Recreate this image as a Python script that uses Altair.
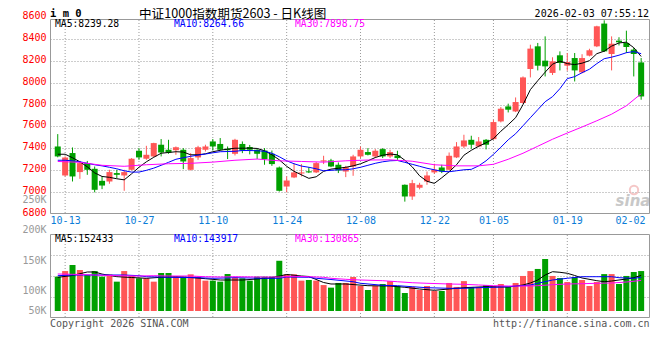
import altair as alt
import pandas as pd

# ---------------- data ----------------
first_idx = -1  # first (partly hidden) candle is 10-10; 10-13 is index 0

opens = [7417, 7152, 7357, 7183, 7265, 7213, 7103, 7097, 7174, 7152,
         7204, 7378, 7305, 7326, 7433, 7387, 7383, 7387, 7204, 7317,
         7387, 7463, 7440, 7396, 7350, 7440, 7412, 7387, 7380, 7350,
         7225, 7051, 7134, 7170, 7190, 7180, 7280, 7289, 7250, 7188,
         7234, 7326, 7366, 7326, 7393, 7326, 7335, 7067, 6960, 7040,
         7097, 7180, 7225, 7204, 7317, 7417, 7478, 7417, 7478, 7484,
         7646, 7783, 7737, 7814, 8125, 8332, 8201, 8089, 8250, 8155,
         8225, 8094, 8247, 8332, 8540, 8262, 8384, 8363, 8302, 8185]
highs = [7530, 7326, 7408, 7286, 7285, 7234, 7143, 7204, 7204, 7204,
         7311, 7402, 7423, 7451, 7485, 7478, 7417, 7402, 7356, 7423,
         7433, 7485, 7494, 7417, 7487, 7463, 7431, 7393, 7402, 7380,
         7234, 7143, 7265, 7256, 7228, 7274, 7332, 7304, 7271, 7240,
         7341, 7417, 7402, 7393, 7402, 7387, 7378, 7070, 7112, 7085,
         7188, 7259, 7250, 7362, 7457, 7524, 7515, 7503, 7485, 7661,
         7777, 7808, 7865, 8057, 8347, 8363, 8423, 8232, 8286, 8271,
         8271, 8260, 8310, 8520, 8570, 8423, 8415, 8475, 8318, 8225]
lows = [7318, 7143, 7097, 7121, 7158, 6998, 7027, 7076, 7128, 7012,
        7198, 7295, 7295, 7320, 7326, 7350, 7341, 7210, 7198, 7295,
        7371, 7380, 7380, 7302, 7335, 7356, 7345, 7302, 7250, 7240,
        7005, 6998, 7128, 7143, 7174, 7174, 7256, 7228, 7174, 7137,
        7149, 7311, 7335, 7311, 7311, 7311, 7295, 6913, 6929, 7025,
        7067, 7167, 7174, 7198, 7311, 7402, 7396, 7410, 7390, 7478,
        7637, 7728, 7731, 7807, 8048, 8112, 8057, 8070, 8112, 8109,
        8011, 8085, 8240, 8325, 8280, 8112, 8340, 8271, 8057, 7844]
closes = [7326, 7316, 7143, 7265, 7204, 7021, 7060, 7183, 7158, 7183,
          7305, 7317, 7341, 7448, 7362, 7362, 7410, 7280, 7311, 7410,
          7417, 7417, 7387, 7383, 7478, 7380, 7387, 7350, 7302, 7256,
          7012, 7106, 7180, 7180, 7180, 7265, 7290, 7234, 7198, 7228,
          7326, 7387, 7341, 7378, 7326, 7366, 7311, 6960, 7082, 7067,
          7152, 7204, 7188, 7332, 7417, 7472, 7433, 7463, 7433, 7640,
          7762, 7753, 7823, 8048, 8311, 8155, 8149, 8195, 8180, 8189,
          8112, 8225, 8296, 8515, 8286, 8356, 8369, 8326, 8262, 7874]
volumes_k = [147, 171, 197, 175.5, 154, 171, 147, 157, 125.6, 171,
             150, 140, 140, 125.6, 162.7, 162.7, 147, 147, 157, 147,
             130, 130, 125.6, 158.4, 144, 140, 130, 147, 147, 147,
             215, 157, 157, 130, 132.7, 130, 111, 100, 120, 120,
             145.5, 107, 90, 107, 115.6, 128, 107, 77, 103, 90,
             107, 85.6, 85.6, 120, 103, 128, 103, 103, 111, 107,
             115.6, 103, 120, 150, 171, 180, 222.6, 150, 141, 124,
             145.5, 132.7, 107, 124, 158, 158, 115.6, 150, 167, 171]

ma5 = [7346, 7346, 7314, 7277, 7231, 7176, 7143, 7135, 7122, 7112,
       7167, 7227, 7277, 7318, 7355, 7362, 7369, 7366, 7341, 7341,
       7350, 7369, 7382, 7393, 7401, 7401, 7402, 7399, 7378, 7341,
       7295, 7236, 7190, 7158, 7126, 7140, 7190, 7210, 7218, 7227,
       7240, 7259, 7286, 7316, 7337, 7348, 7341, 7291, 7231, 7149,
       7099, 7080, 7131, 7186, 7250, 7337, 7382, 7419, 7451, 7488,
       7556, 7616, 7680, 7799, 7936, 8018, 8096, 8169, 8197, 8174,
       8165, 8178, 8201, 8265, 8288, 8334, 8363, 8370, 8320, 8239.28]
ma10 = [7291, 7291, 7286, 7277, 7263, 7250, 7240, 7227, 7213, 7195,
        7183, 7183, 7199, 7219, 7245, 7272, 7300, 7314, 7327, 7338,
        7348, 7359, 7369, 7371, 7373, 7380, 7380, 7378, 7373, 7355,
        7323, 7286, 7259, 7238, 7227, 7213, 7195, 7199, 7204, 7204,
        7213, 7227, 7245, 7263, 7277, 7286, 7289, 7272, 7254, 7236,
        7218, 7204, 7190, 7186, 7195, 7204, 7208, 7240, 7286, 7345,
        7410, 7478, 7533, 7606, 7680, 7753, 7826, 7872, 7945, 8037,
        8055, 8091, 8123, 8174, 8219, 8233, 8251, 8274, 8284, 8264.66]
ma30_idx = [-1, 2, 5, 8, 11, 14, 17, 20, 23, 26, 29, 32, 35, 38, 41, 44, 47, 50,
            53, 56, 58, 60, 62, 64, 66, 68, 70, 72, 74, 76, 78]
ma30 = [7280, 7272, 7245, 7236, 7250, 7259, 7263, 7274, 7291, 7302, 7286, 7280,
        7274, 7286, 7293, 7295, 7282, 7250, 7240, 7240, 7254, 7300, 7355, 7419,
        7483, 7540, 7595, 7652, 7712, 7789, 7898.75]

vma5_idx = [-1, 1, 3, 4, 5, 7, 9, 11, 13, 15, 17, 19, 21, 24, 26, 28, 30, 32, 33, 35,
            36, 38, 41, 44, 46, 48, 50, 52, 54, 57, 60, 61, 62, 63, 64, 65, 66, 67, 68, 69,
            70, 72, 73, 74, 76, 77, 78]
vma5_k = [144.2, 152, 167, 167, 158, 147, 143.4, 140, 144.3, 146.8,
          143.4, 138.3, 132.7, 132.7, 137, 142.6, 156.3, 149.8, 147.7, 122,
          115.6, 115.6, 108.3, 107, 101.5, 94.2, 88.6, 94.2, 99.7, 104,
          102.7, 107, 111.3, 119.9, 132.7, 154.1, 168.2, 165.7, 161.4, 152,
          141.3, 129.7, 125.4, 128.4, 137, 142.6, 152.433]
vma10_idx = [-1, 1, 4, 8, 10, 11, 14, 18, 20, 23, 27, 29, 30, 33, 34, 36, 39, 40, 43, 45,
             47, 49, 52, 54, 56, 58, 60, 63, 64, 66, 68, 70, 72, 74, 75, 77, 78]
vma10_k = [151.1, 154.1, 154.1, 154.1, 151.1, 146.8, 144.3, 142.6, 140, 142.6,
           140, 140, 145.5, 144.3, 140, 134.8, 125.4, 118.6, 110, 108.3,
           104, 99.7, 97.2, 97.2, 99.7, 101.5, 104, 111.3, 118.6, 132.7,
           140, 146.8, 146.8, 146.8, 142.6, 140, 143.917]
vma30_idx = [-1, 1, 4, 7, 10, 12, 14, 17, 19, 21, 23, 26, 29, 31, 33, 35, 36, 38, 40, 43,
             45, 47, 49, 52, 54, 56, 58, 60, 63, 64, 66, 68, 70, 72, 74, 76, 78]
vma30_k = [158.4, 157.1, 154.1, 151.1, 149.8, 151.1, 149.8, 149.8, 146.8, 145.5,
           146.8, 145.5, 145.5, 148.5, 146.8, 144.3, 140, 135.7, 132.7, 129.7,
           125.4, 121.1, 118.6, 115.6, 114.3, 111.3, 108.3, 107, 107, 108.3,
           112.6, 115.6, 116.9, 118.6, 119.9, 124, 130.865]

date_idx = [0, 10, 20, 30, 40, 50, 58, 68, 78]
date_lbl = ['10-13', '10-27', '11-10', '11-24', '12-08', '12-22', '01-05', '01-19', '02-02']
price_ticks = [6800, 7000, 7200, 7400, 7600, 7800, 8000, 8200, 8400, 8600]
vol_tick_k = [50, 100, 150, 200, 250]
ma_names = ['MA5', 'MA10', 'MA30']
price_ma_last = [8239.28, 8264.66, 7898.75]
vol_ma_last = [152433, 143917, 130865]
code_text = 'i m 0'
title_text = '中证1000指数期货2603 - 日K线图'
stamp_text = '2026-02-03 07:55:12'
copyright_text = 'Copyright 2026 SINA.COM'
url_text = 'http://finance.sina.com.cn'
watermark_text = 'sina'

# ---------------- tables ----------------
idx = list(range(first_idx, first_idx + len(opens)))
df = pd.DataFrame({'i': idx, 'open': opens, 'high': highs, 'low': lows,
                   'close': closes, 'vol': volumes_k, 'ma5': ma5, 'ma10': ma10})
df['dir'] = ['up' if c >= o else 'down' for o, c in zip(opens, closes)]
ma30_df = pd.DataFrame({'i': ma30_idx, 'v': ma30})
vma5_df = pd.DataFrame({'i': vma5_idx, 'v': vma5_k})
vma10_df = pd.DataFrame({'i': vma10_idx, 'v': vma10_k})
vma30_df = pd.DataFrame({'i': vma30_idx, 'v': vma30_k})
vgrid_df = pd.DataFrame({'i': date_idx[:-1]})
vlab_df = pd.DataFrame({'v': vol_tick_k, 't': [f'{v}K' for v in vol_tick_k]})
one = pd.DataFrame({'k': [0]})

# ---------------- styles ----------------
RED, GREEN = '#ff5656', '#00a000'
GRID = '#9a9a9a'
MONO = 'DejaVu Sans Mono'
CJK = 'Noto Sans CJK SC'
MA_COLORS = ['#000000', '#0000ff', '#ff00ff']
PLOT_H = 301

xscale = alt.Scale(domain=[-1.3715, 78.522], nice=False, zero=False)
price_scale = alt.Scale(domain=[6800, 8600], range=[197, 0], nice=False, zero=False)
vol_dom = [-29.97, 329.62]
vol_scale = alt.Scale(domain=vol_dom, range=[301, 217], nice=False, zero=False)
vlabel_scale = alt.Scale(domain=[68, 250], range=[294, 183], clamp=True, nice=False, zero=False)
color_scale = alt.Scale(domain=['up', 'down'], range=[RED, GREEN])

last_date = date_idx[-1]
label_expr = ''.join(f"datum.value=={i}?'{d}':" for i, d in zip(date_idx, date_lbl)) + "''"
xaxis = alt.Axis(values=date_idx, labelExpr=label_expr, orient='bottom', offset=196.5 - PLOT_H,
                 domain=False, ticks=False, tickSize=0, grid=False, labelColor='#0b7dd8',
                 labelFont=MONO, labelFontSize=10, labelPadding=2,
                 labelAlign={'condition': {'test': f'datum.value == {last_date}', 'value': 'right'},
                             'value': 'center'},
                 labelOffset={'condition': {'test': f'datum.value == {last_date}', 'value': 4},
                              'value': 0},
                 labelOverlap=False, title=None)
X = alt.X('i:Q', scale=xscale, axis=xaxis)

paxis = alt.Axis(values=price_ticks, format='d', orient='left', domain=False, ticks=False,
                 tickSize=0, labelPadding=4, labelColor='#ff0000', labelFont=MONO,
                 labelFontSize=10, labelOffset=-1.5, labelOverlap=False, grid=True,
                 gridColor=GRID, gridDash=[1, 2],
                 gridOpacity={'condition': {'test': 'datum.value <= 6800 || datum.value >= 8600',
                                            'value': 0}, 'value': 1},
                 title=None)
vgrid_vals = [vol_dom[0] + k * (vol_dom[1] - vol_dom[0]) / 4 for k in (1, 2, 3)]
vaxis = alt.Axis(values=vgrid_vals, orient='left', labels=False, domain=False, ticks=False,
                 tickSize=0, grid=True, gridColor=GRID, gridDash=[1, 2], title=None)
COLOR = alt.Color('dir:N', scale=color_scale, legend=None)

# ---------------- price panel ----------------
base = alt.Chart(df)
wick = base.mark_rule(strokeWidth=1, clip=True).encode(
    x=X, y=alt.Y('low:Q', scale=price_scale, axis=paxis), y2='high:Q', color=COLOR)
body = base.mark_bar(size=6, clip=True).encode(
    x=X, y=alt.Y('open:Q', scale=price_scale, axis=paxis), y2='close:Q', color=COLOR)
l5 = base.mark_line(color=MA_COLORS[0], strokeWidth=1, clip=True).encode(
    x=X, y=alt.Y('ma5:Q', scale=price_scale, axis=paxis))
l10 = base.mark_line(color=MA_COLORS[1], strokeWidth=1, clip=True).encode(
    x=X, y=alt.Y('ma10:Q', scale=price_scale, axis=paxis))
l30 = alt.Chart(ma30_df).mark_line(color=MA_COLORS[2], strokeWidth=1, clip=True).encode(
    x=X, y=alt.Y('v:Q', scale=price_scale, axis=paxis))
price_group = alt.layer(wick, body, l5, l10, l30)

# ---------------- volume panel ----------------
vbars = base.mark_bar(size=6, clip=True).encode(
    x=X, y=alt.Y('vol:Q', scale=vol_scale, axis=vaxis), y2=alt.Y2Datum(0), color=COLOR)
vlines = [alt.Chart(d).mark_line(color=c, strokeWidth=1, clip=True).encode(
    x=X, y=alt.Y('v:Q', scale=vol_scale, axis=vaxis))
    for d, c in zip([vma5_df, vma10_df, vma30_df], MA_COLORS)]
vol_group = alt.layer(vbars, *vlines)

vlabels = alt.Chart(vlab_df).mark_text(align='right', baseline='middle', font=MONO,
                                       fontSize=10, color='#999999').encode(
    x=alt.value(-3.5), y=alt.Y('v:Q', scale=vlabel_scale, axis=None), text='t:N')

# ---------------- grid / frames ----------------
vgrid_main = alt.Chart(vgrid_df).mark_rule(color=GRID, strokeDash=[1, 2], strokeWidth=1).encode(
    x=X, y=alt.value(3), y2=alt.value(196))
vgrid_vol = alt.Chart(vgrid_df).mark_rule(color=GRID, strokeDash=[1, 2], strokeWidth=1).encode(
    x=X, y=alt.value(218), y2=alt.value(300))
frame_main = alt.Chart(one).mark_rect(fillOpacity=0, stroke='#999999', strokeWidth=1).encode(
    x=alt.value(0.5), x2=alt.value(599.5), y=alt.value(2.5), y2=alt.value(196.5))
frame_vol = alt.Chart(one).mark_rect(fillOpacity=0, stroke='#999999', strokeWidth=1).encode(
    x=alt.value(0.5), x2=alt.value(599.5), y=alt.value(217.5), y2=alt.value(300.5))


def label(txt, x, y, **kw):
    return alt.Chart(one).mark_text(text=txt, **kw).encode(x=alt.value(x), y=alt.value(y))


texts = [
    label(code_text, 0, -0.5, align='left', baseline='alphabetic', font=MONO,
          fontSize=10.5, fontWeight='bold', color='#000000'),
    label(title_text, 89, 1.3, align='left', baseline='alphabetic', font=CJK,
          fontSize=12.6, color='#000000'),
    label(stamp_text, 599, -0.5, align='right', baseline='alphabetic', font=MONO,
          fontSize=10, color='#000000'),
    label(copyright_text, 0, 306.5, align='left', baseline='middle', font=MONO,
          fontSize=10, color='#555555'),
    label(url_text, 599.5, 306.5, align='right', baseline='middle', font=MONO,
          fontSize=10, color='#555555'),
    label(watermark_text, 583, 184, align='center', baseline='middle', font='DejaVu Sans',
          fontSize=15, fontWeight='bold', fontStyle='italic', color='#c8c8c8'),
]
eye = alt.Chart(one).mark_point(shape='circle', filled=False, stroke='#f2b0b0',
                                strokeWidth=2, size=70).encode(x=alt.value(584), y=alt.value(173))
legend_x = [5, 124, 245]
for name, val, col, lx in zip(ma_names, price_ma_last, MA_COLORS, legend_x):
    texts.append(label(f'{name}:{val:.2f}', lx, 6.7, align='left', baseline='middle',
                       font=MONO, fontSize=9.7, color=col))
for name, val, col, lx in zip(ma_names, vol_ma_last, MA_COLORS, legend_x):
    texts.append(label(f'{name}:{val}', lx, 222, align='left', baseline='middle',
                       font=MONO, fontSize=9.7, color=col))

chart = alt.layer(
    vgrid_main, vgrid_vol, eye, texts[5], price_group, vol_group, vlabels,
    frame_main, frame_vol, *texts[:5], *texts[6:]
).resolve_scale(y='independent').properties(
    width=600, height=PLOT_H,
    padding={'left': 42, 'top': 9, 'right': 2, 'bottom': 34},
    autosize=alt.AutoSizeParams(type='none'),
).configure_view(stroke=None)

chart.save('out.html', embed_options={'renderer': 'svg', 'actions': False})
